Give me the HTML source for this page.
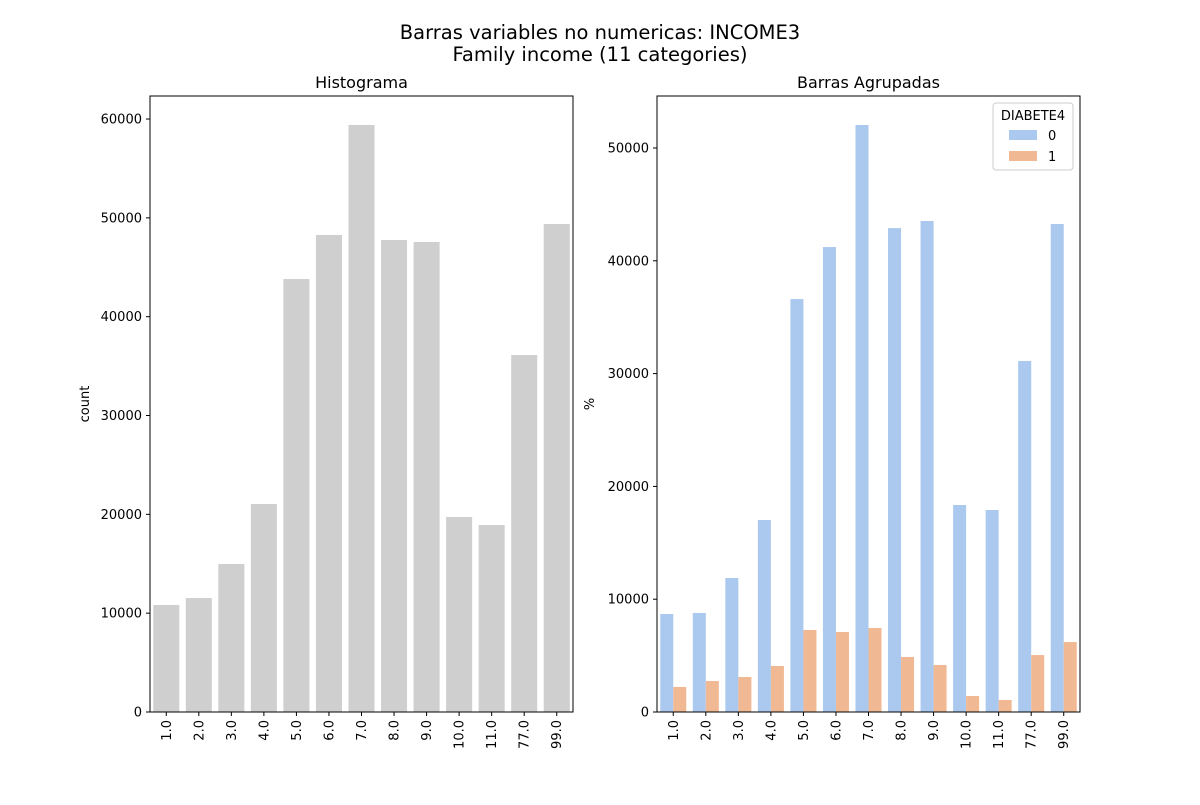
<!DOCTYPE html>
<html><head><meta charset="utf-8"><style>
body{margin:0;background:#fff;}
svg text{font-family:"DejaVu Sans","Liberation Sans",sans-serif;fill:#000;}
</style></head><body>
<svg id="fig" width="1200" height="800" xmlns="http://www.w3.org/2000/svg">
<rect width="1200" height="800" fill="#fff"/>
<text x="600" y="39" font-size="19.5" text-anchor="middle">Barras variables no numericas: INCOME3</text>
<text x="600" y="61" font-size="19.5" text-anchor="middle">Family income (11 categories)</text>
<g id="left"></g><g id="right"></g>
</svg>
<script>
const categories=["1.0","2.0","3.0","4.0","5.0","6.0","7.0","8.0","9.0","10.0","11.0","77.0","99.0"];
const counts=[10830,11530,14980,21050,43810,48270,59400,47760,47560,19730,18920,36120,49380];
const series0=[8690,8780,11880,17020,36610,41220,52040,42900,43530,18350,17910,31120,43260];
const series1=[2220,2750,3100,4080,7270,7090,7450,4880,4170,1420,1060,5050,6200];
const leftTicks=[0,10000,20000,30000,40000,50000,60000];
const rightTicks=[0,10000,20000,30000,40000,50000];
const NS="http://www.w3.org/2000/svg";
function mk(p,tag,at,txt){const e=document.createElementNS(NS,tag);for(const k in at)e.setAttribute(k,at[k]);if(txt!==undefined)e.textContent=txt;p.appendChild(e);return e;}
function axes(g,x0,x1,y0,y1,ymax,ticks,title,ylabel){
  const ys=v=>y1-(v/ymax)*(y1-y0);
  const band=(x1-x0)/categories.length;
  const xs=i=>x0+band*(i+0.5);
  const t=mk(g,'text',{x:(x0+x1)/2,y:y0-8,'font-size':16,'text-anchor':'middle'},title);
  
  
  ticks.forEach(v=>{
    const y=ys(v);
    mk(g,'line',{x1:x0-4,x2:x0,y1:y,y2:y,stroke:'#000'});
    const l=mk(g,'text',{x:x0-8,y:y+4.5,'font-size':13,'text-anchor':'end'},String(v));
    
    
  });
  categories.forEach((c,i)=>{
    const x=xs(i);
    mk(g,'line',{x1:x,x2:x,y1:y1,y2:y1+4,stroke:'#000'});
    const l=mk(g,'text',{x:0,y:0,'font-size':13,'text-anchor':'end',transform:`translate(${x+4.5},${y1+8}) rotate(-90)`},c);
    
    
  });
  const yl=mk(g,'text',{x:0,y:0,'font-size':13,'text-anchor':'middle',transform:`translate(${ylabel[1]},${(y0+y1)/2}) rotate(-90)`},ylabel[0]);
  
  
  return {ys,band,xs};
}
const L=document.getElementById('left');
const la=axes(L,150,573,96,712,62330,leftTicks,'Histograma',['count',89]);
counts.forEach((v,i)=>{
  const r=mk(L,'rect',{x:la.xs(i)-la.band*0.4,y:la.ys(v),width:la.band*0.8,height:712-la.ys(v),fill:'#cfcfcf'});
  
  
});
mk(L,'rect',{x:150,y:96,width:423,height:616,fill:'none',stroke:'#000','stroke-width':1});
const R=document.getElementById('right');
const ra=axes(R,657,1080,96,712,54610,rightTicks,'Barras Agrupadas',['%',594]);
const cols=['#abc9ee','#f1b894'];
[series0,series1].forEach((s,k)=>{
  s.forEach((v,i)=>{
    const r=mk(R,'rect',{x:ra.xs(i)-ra.band*0.4+k*ra.band*0.4,y:ra.ys(v),width:ra.band*0.4,height:712-ra.ys(v),fill:cols[k]});
    
    
  });
});
mk(R,'rect',{x:657,y:96,width:423,height:616,fill:'none',stroke:'#000','stroke-width':1});
const lg=mk(R,'g',{});


mk(lg,'rect',{x:993,y:103,width:80,height:67,rx:3,fill:'#fff',stroke:'#ccc'});
mk(lg,'text',{x:1033,y:120,'font-size':13,'text-anchor':'middle'},'DIABETE4');
['0','1'].forEach((n,k)=>{
  const e=mk(lg,'g',{});
  
  
  mk(e,'rect',{x:1009,y:130+k*21,width:28,height:10,fill:cols[k]});
  mk(e,'text',{x:1048,y:140+k*21,'font-size':13},n);
});
</script>
</body></html>
